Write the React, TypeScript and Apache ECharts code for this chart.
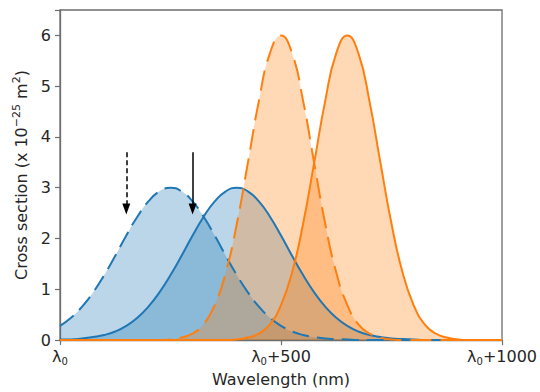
import React, { useEffect, useRef } from "react";
import * as echarts from "echarts";

// Wavelength offsets from λ0 (nm)
const wavelengths = [
  0, 25, 50, 75, 100, 125, 150, 175, 200, 225, 250, 275, 300, 325, 350, 375, 400, 425, 450, 475, 500,
  525, 550, 575, 600, 625, 650, 675, 700, 725, 750, 775, 800, 825, 850, 875, 900, 925, 950, 975, 1000,
];

// Blue, dashed (peak near λ0+250)
const blueDashed = [
  0.28, 0.44, 0.66, 0.94, 1.28, 1.66, 2.06, 2.43, 2.73, 2.93, 3.0, 2.93, 2.73, 2.43, 2.06, 1.66, 1.28, 0.94, 0.66, 0.44, 0.28,
  0.17, 0.1, 0.06, 0.03, 0.02, 0.01, 0, 0, 0, 0, 0, 0, 0, 0, 0, 0, 0, 0, 0, 0,
];

// Blue, solid (peak near λ0+400)
const blueSolid = [
  0.01, 0.01, 0.03, 0.06, 0.1, 0.17, 0.28, 0.44, 0.66, 0.94, 1.28, 1.66, 2.06, 2.43, 2.73, 2.93, 3.0, 2.93, 2.73, 2.43, 2.06,
  1.66, 1.28, 0.94, 0.66, 0.44, 0.28, 0.17, 0.1, 0.06, 0.03, 0.02, 0.01, 0, 0, 0, 0, 0, 0, 0, 0,
];

// Orange, dashed (peak near λ0+500)
const orangeDashed = [
  0, 0, 0, 0, 0, 0, 0, 0, 0, 0, 0.01, 0.05, 0.13, 0.31, 0.69, 1.33, 2.29, 3.49, 4.71, 5.65, 6.0,
  5.65, 4.71, 3.49, 2.29, 1.33, 0.69, 0.31, 0.13, 0.05, 0.01, 0, 0, 0, 0, 0, 0, 0, 0, 0, 0,
];

// Orange, solid (peak near λ0+650)
const orangeSolid = [
  0, 0, 0, 0, 0, 0, 0, 0, 0, 0, 0, 0, 0, 0, 0, 0, 0.01, 0.05, 0.13, 0.31, 0.69,
  1.33, 2.29, 3.49, 4.71, 5.65, 6.0, 5.65, 4.71, 3.49, 2.29, 1.33, 0.69, 0.31, 0.13, 0.05, 0.01, 0, 0, 0, 0,
];

// Arrows (x position, start value, arrowhead value)
const arrowXs = [150, 300];
const arrowStyles = ["dashed", "solid"];
const arrowTop = 3.7;
const arrowTip = 2.58;

const xTicks = [0, 500, 1000];
const yTicks = [0, 1, 2, 3, 4, 5, 6];

const BLUE = "#1f77b4";
const ORANGE = "#ff7f0e";
const FONT = "DejaVu Sans";
const TXT = "#262626";
const SPINE = "#6e6e6e";

function pairs(ys: number[]) {
  return wavelengths.map((x, i) => [x, ys[i]]);
}

function area(name: string, ys: number[], color: string, z: number) {
  return {
    name: name + "Fill",
    type: "line",
    data: pairs(ys),
    smooth: 0.5,
    showSymbol: false,
    symbol: "none",
    z,
    lineStyle: { width: 0, opacity: 0 },
    areaStyle: { color, opacity: 0.3 },
  };
}

function curve(name: string, ys: number[], color: string, dash: number[] | null, z: number) {
  return {
    name,
    type: "line",
    data: pairs(ys),
    smooth: 0.5,
    showSymbol: false,
    symbol: "none",
    z,
    lineStyle: { color, width: 2, type: dash ? dash : "solid", cap: "butt" },
  };
}

export default function App() {
  const ref = useRef<HTMLDivElement>(null);
  useEffect(() => {
    document.body.style.margin = "0";
    if (!ref.current) return;
    const chart = echarts.init(ref.current, null, { renderer: "svg" });
    const subLabel = (v: number) =>
      v === 0 ? "{l|λ}{s|0}" : `{l|λ}{s|0}{l|+${v}}`;
    chart.setOption({
      animation: false,
      backgroundColor: "#ffffff",
      grid: {
        left: 60,
        top: 10,
        right: 34,
        bottom: 51,
        show: true,
        borderColor: SPINE,
        borderWidth: 1.3,
        backgroundColor: "transparent",
      },
      xAxis: {
        type: "value",
        min: xTicks[0],
        max: xTicks[xTicks.length - 1],
        interval: 500,
        name: "Wavelength (nm)",
        nameLocation: "middle",
        nameGap: 29,
        nameTextStyle: { fontFamily: FONT, fontSize: 16, color: TXT },
        axisLine: { show: true, lineStyle: { color: SPINE, width: 1.3 } },
        axisTick: { show: true, length: 5, lineStyle: { color: SPINE, width: 1.2 } },
        splitLine: { show: false },
        axisLabel: {
          margin: 6,
          formatter: subLabel,
          rich: {
            l: { fontFamily: FONT, fontSize: 16, color: TXT, lineHeight: 20 },
            s: { fontFamily: FONT, fontSize: 10, color: TXT, lineHeight: 12, verticalAlign: "bottom" },
          },
        },
      },
      yAxis: {
        type: "value",
        min: 0,
        max: 6.5,
        interval: 1,
        name: "{n|Cross section (x 10}{sup|−25}{n| m}{sup|2}{n|)}",
        nameLocation: "middle",
        nameGap: 29,
        nameTextStyle: {
          rich: {
            n: { fontFamily: FONT, fontSize: 16, color: TXT, lineHeight: 20 },
            sup: { fontFamily: FONT, fontSize: 11, color: TXT, lineHeight: 12, verticalAlign: "top" },
          },
        },
        axisLine: { show: true, lineStyle: { color: SPINE, width: 1.3 } },
        axisTick: { show: true, length: 5, lineStyle: { color: SPINE, width: 1.2 } },
        splitLine: { show: false },
        axisLabel: {
          margin: 9,
          fontFamily: FONT,
          fontSize: 16,
          color: TXT,
          formatter: (v: number) => (yTicks.includes(v) ? String(v) : ""),
        },
      },
      series: [
        area("blueDashed", blueDashed, BLUE, 2),
        area("blueSolid", blueSolid, BLUE, 2),
        area("orangeDashed", orangeDashed, ORANGE, 2),
        area("orangeSolid", orangeSolid, ORANGE, 2),
        curve("blueDashed", blueDashed, BLUE, [17, 8], 3),
        curve("blueSolid", blueSolid, BLUE, null, 3),
        curve("orangeDashed", orangeDashed, ORANGE, [21, 9], 4),
        curve("orangeSolid", orangeSolid, ORANGE, null, 4),
        {
          name: "arrows",
          type: "line",
          data: [],
          z: 10,
          markLine: {
            silent: true,
            animation: false,
            symbol: ["none", "triangle"],
            symbolSize: [8, 11],
            label: { show: false },
            data: arrowXs.map((x, i) => [
              {
                coord: [x, arrowTop],
                lineStyle: { color: "#000", width: 1.5, type: arrowStyles[i] === "dashed" ? [5, 3] : "solid" },
                itemStyle: { color: "#000" },
              },
              { coord: [x, arrowTip] },
            ]),
          },
        },
      ],
    });
    return () => chart.dispose();
  }, []);
  return <div ref={ref} style={{ width: 540, height: 392 }} />;
}
